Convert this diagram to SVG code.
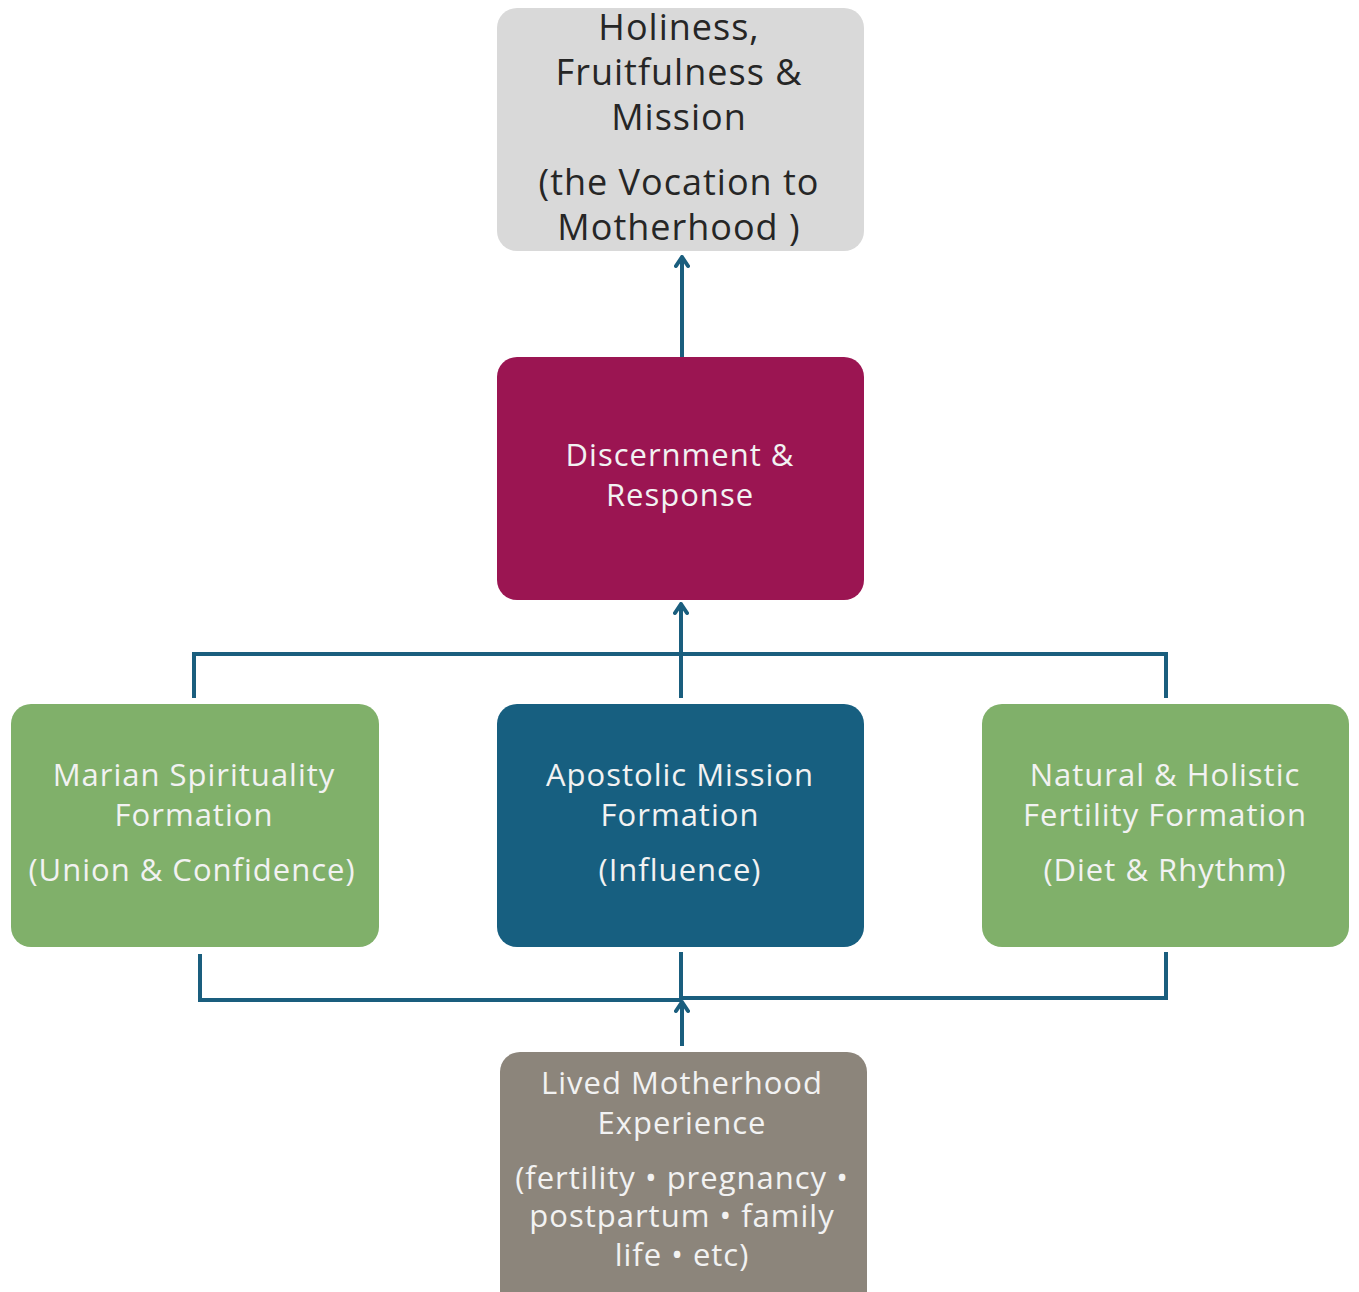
<svg xmlns="http://www.w3.org/2000/svg" width="1359" height="1292" viewBox="0 0 1359 1292">
<style>
.t{font-family:"Open Sans","Noto Sans","Liberation Sans",sans-serif;text-anchor:middle;letter-spacing:1px;}
.w{fill:#f2f2f2;font-size:31px;}
.d{fill:#262626;font-size:36px;}
.c{fill:none;stroke:#1a5e7e;stroke-width:4;stroke-linecap:butt;}
</style>
<defs>
<marker id="ah" viewBox="0 0 14 16" refX="12" refY="8" markerWidth="14" markerHeight="16" markerUnits="userSpaceOnUse" orient="auto">
<path d="M3,2 L12,8 L3,14" fill="none" stroke="#1a5e7e" stroke-width="4" stroke-linecap="round" stroke-linejoin="round"/>
</marker>
</defs>
<rect width="1359" height="1292" fill="#ffffff"/>
<g id="connectors">
<line class="c" x1="682" y1="358" x2="682" y2="257" marker-end="url(#ah)"/>
<polyline class="c" points="194,698 194,654 1166,654 1166,698"/>
<line class="c" x1="681" y1="698" x2="681" y2="604" marker-end="url(#ah)"/>
<polyline class="c" points="200,954 200,1000 681,1000"/>
<polyline class="c" points="681,952 681,998 1166,998 1166,952"/>
<line class="c" x1="682" y1="1046" x2="682" y2="1002" marker-end="url(#ah)"/>
</g>
<g id="n_holiness">
<rect x="497" y="8" width="367" height="243" rx="20" fill="#d9d9d9"/>
<text class="t d" x="679" y="40">Holiness,</text>
<text class="t d" x="679" y="85">Fruitfulness &amp;</text>
<text class="t d" x="679" y="130">Mission</text>
<text class="t d" x="679" y="195">(the Vocation to</text>
<text class="t d" x="679" y="240">Motherhood )</text>
</g>
<g id="n_discernment">
<rect x="497" y="357" width="367" height="243" rx="20" fill="#9b1552"/>
<text class="t w" x="680" y="466">Discernment &amp;</text>
<text class="t w" x="680" y="506">Response</text>
</g>
<g id="n_marian">
<rect x="11" y="704" width="368" height="243" rx="20" fill="#80b06a"/>
<text class="t w" x="194" y="786">Marian Spirituality</text>
<text class="t w" x="194" y="826">Formation</text>
<text class="t w" x="192" y="881">(Union &amp; Confidence)</text>
</g>
<g id="n_apostolic">
<rect x="497" y="704" width="367" height="243" rx="20" fill="#175f80"/>
<text class="t w" x="680" y="786">Apostolic Mission</text>
<text class="t w" x="680" y="826">Formation</text>
<text class="t w" x="680" y="881">(Influence)</text>
</g>
<g id="n_natural">
<rect x="982" y="704" width="367" height="243" rx="20" fill="#80b06a"/>
<text class="t w" x="1165" y="786">Natural &amp; Holistic</text>
<text class="t w" x="1165" y="826">Fertility Formation</text>
<text class="t w" x="1165" y="881">(Diet &amp; Rhythm)</text>
</g>
<g id="n_lived">
<rect x="500" y="1052" width="367" height="260" rx="20" fill="#8c857b"/>
<text class="t w" x="682" y="1094">Lived Motherhood</text>
<text class="t w" x="682" y="1134">Experience</text>
<text class="t w" x="682" y="1189">(fertility • pregnancy •</text>
<text class="t w" x="682" y="1227">postpartum • family</text>
<text class="t w" x="682" y="1266">life • etc)</text>
</g>
</svg>
